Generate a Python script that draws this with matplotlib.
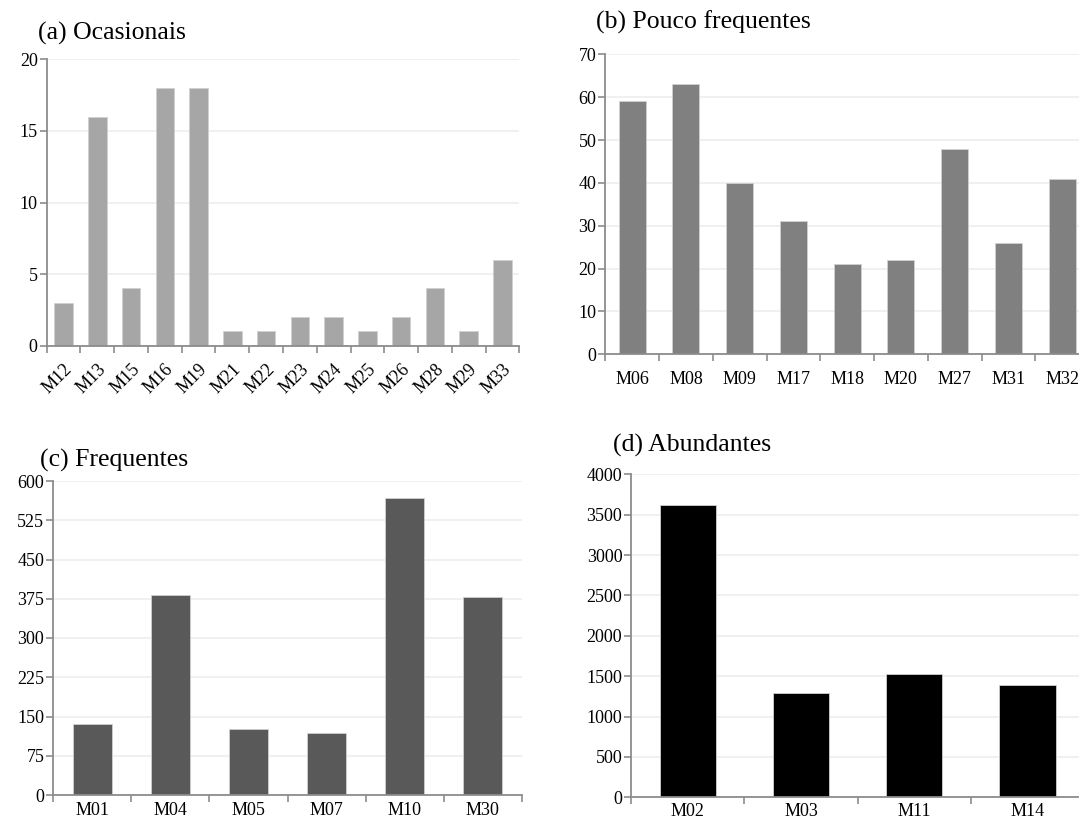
import matplotlib
matplotlib.use("Agg")
import matplotlib.pyplot as plt
import numpy as np

plt.rcParams['font.family'] = ['Liberation Serif', 'DejaVu Serif']

# (a) Ocasionais
cats_a = ["M12", "M13", "M15", "M16", "M19", "M21", "M22", "M23", "M24",
          "M25", "M26", "M28", "M29", "M33"]
vals_a = [3, 16, 4, 18, 18, 1, 1, 2, 2, 1, 2, 4, 1, 6]

# (b) Pouco frequentes
cats_b = ["M06", "M08", "M09", "M17", "M18", "M20", "M27", "M31", "M32"]
vals_b = [59, 63, 40, 31, 21, 22, 48, 26, 41]

# (c) Frequentes
cats_c = ["M01", "M04", "M05", "M07", "M10", "M30"]
vals_c = [135, 383, 127, 118, 567, 378]

# (d) Abundantes
cats_d = ["M02", "M03", "M11", "M14"]
vals_d = [3620, 1288, 1527, 1395]

W, H = 1079, 825
fig = plt.figure(figsize=(W / 100, H / 100), dpi=100)

AXIS_COLOR = "#8c8c8c"
GRID_COLOR = "#eeeeee"
TICK_FS = 13
TITLE_FS = 18.5


def panel(rect, cats, vals, color, ymax, ystep, width, title, title_xy,
          rotate=False, label_pad=12):
    ax = fig.add_axes(rect)
    x = np.arange(len(cats))
    ax.bar(x, vals, width=width, color=color, edgecolor="#d0d0d0",
           linewidth=0.6, zorder=3)
    ax.set_xlim(-0.5, len(cats) - 0.5)
    ax.set_ylim(0, ymax)
    yt = np.arange(0, ymax + ystep / 2, ystep)
    ax.set_yticks(yt)
    ax.set_yticklabels([f"{int(v)}" for v in yt], fontsize=TICK_FS)
    ax.yaxis.grid(True, color=GRID_COLOR, linewidth=1.2, zorder=0)
    ax.set_axisbelow(True)
    # category labels at centres, ticks at category boundaries
    ax.set_xticks(np.arange(-0.5, len(cats)), minor=False)
    ax.set_xticklabels([])
    ax.set_xticks(x, minor=True)
    if rotate:
        ax.set_xticklabels(cats, minor=True, fontsize=TICK_FS, rotation=45,
                           ha="right", va="top", rotation_mode="anchor")
    else:
        ax.set_xticklabels(cats, minor=True, fontsize=TICK_FS)
    ax.tick_params(axis="x", which="minor", length=0, pad=label_pad)
    ax.tick_params(axis="x", which="major", length=5, width=1.2,
                   color=AXIS_COLOR, direction="out")
    ax.tick_params(axis="y", length=5, width=1.2, color=AXIS_COLOR,
                   direction="out", pad=1.5)
    for s in ("top", "right"):
        ax.spines[s].set_visible(False)
    for s in ("left", "bottom"):
        ax.spines[s].set_color(AXIS_COLOR)
        ax.spines[s].set_linewidth(1.3)
    ax.spines["bottom"].set_zorder(4)
    fig.text(title_xy[0], title_xy[1], title, fontsize=TITLE_FS,
             ha="left", va="center")
    return ax


panel([46.7 / W, 1 - 345.7 / H, (519.3 - 46.7) / W, (345.7 - 59.3) / H],
      cats_a, vals_a, "#a6a6a6", 20, 5, 0.55, "(a) Ocasionais",
      (38.0 / W, 1 - 33.0 / H), rotate=True, label_pad=11)

panel([605.3 / W, 1 - 354.3 / H, (1089.0 - 605.3) / W, (354.3 - 54.3) / H],
      cats_b, vals_b, "#808080", 70, 10, 0.5, "(b) Pouco frequentes",
      (596.0 / W, 1 - 22.0 / H), label_pad=12)

panel([53.3 / W, 1 - 795.0 / H, (521.7 - 53.3) / W, (795.0 - 481.0) / H],
      cats_c, vals_c, "#595959", 600, 75, 0.5, "(c) Frequentes",
      (40.0 / W, 1 - 460.0 / H), label_pad=5)

panel([631.4 / W, 1 - 797.3 / H, (1083.8 - 631.4) / W, (797.3 - 474.3) / H],
      cats_d, vals_d, "#000000", 4000, 500, 0.5, "(d) Abundantes",
      (613.0 / W, 1 - 445.0 / H), label_pad=4)

fig.savefig("out.png", dpi=100)
